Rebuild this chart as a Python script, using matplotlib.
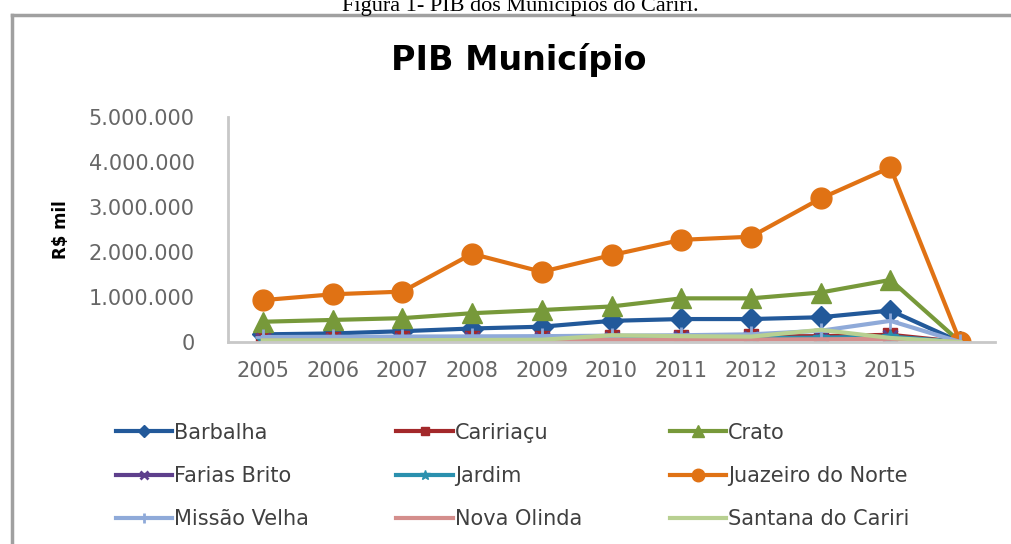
import matplotlib
matplotlib.use("Agg")
import matplotlib.pyplot as plt
from matplotlib.ticker import FuncFormatter
from matplotlib.lines import Line2D

# ---- data (R$ mil) ----
categories = ['2005', '2006', '2007', '2008', '2009', '2010', '2011', '2012', '2013', '2015', '']
barbalha = [170000, 190000, 240000, 300000, 340000, 470000, 510000, 510000, 550000, 700000, 0]
caririacu = [70000, 75000, 80000, 90000, 100000, 110000, 120000, 125000, 130000, 160000, 0]
crato = [450000, 490000, 530000, 640000, 710000, 790000, 970000, 970000, 1100000, 1380000, 0]
farias_brito = [50000, 52000, 55000, 60000, 65000, 75000, 80000, 85000, 90000, 110000, 0]
jardim = [55000, 58000, 60000, 65000, 70000, 80000, 85000, 90000, 95000, 120000, 0]
juazeiro = [930000, 1060000, 1120000, 1960000, 1560000, 1930000, 2270000, 2340000, 3190000, 3880000, 0]
missao_velha = [110000, 115000, 120000, 125000, 130000, 140000, 150000, 170000, 250000, 470000, 0]
nova_olinda = [30000, 32000, 34000, 38000, 40000, 45000, 50000, 55000, 60000, 70000, 0]
santana = [35000, 38000, 40000, 45000, 50000, 150000, 130000, 120000, 270000, 90000, 0]

series = [
    ('Barbalha', barbalha, '#22599A', 'D', 11),
    ('Caririaçu', caririacu, '#A3282A', 's', 10),
    ('Crato', crato, '#77993A', '^', 14),
    ('Farias Brito', farias_brito, '#5E3F8C', 'x', 10),
    ('Jardim', jardim, '#2A90AE', '*', 12),
    ('Juazeiro do Norte', juazeiro, '#E07214', 'o', 15),
    ('Missão Velha', missao_velha, '#8FAAD9', '+', 12),
    ('Nova Olinda', nova_olinda, '#D48E8C', None, 0),
    ('Santana do Cariri', santana, '#B8D091', None, 0),
]

W, H = 1011, 544
fig = plt.figure(figsize=(W / 100, H / 100), dpi=100)

# border and caption
fig.add_artist(Line2D([12 / W, 12 / W], [0, 1 - 15 / H], color='#A0A0A0', lw=2.5, transform=fig.transFigure))
fig.add_artist(Line2D([12 / W, 1], [1 - 15 / H, 1 - 15 / H], color='#A0A0A0', lw=2.5, transform=fig.transFigure))
fig.text(520 / W, 1 - 11 / H, 'Figura 1- PIB dos Municípios do Cariri.', ha='center', va='baseline',
         fontsize=16, family='Liberation Serif', color='black')

fig.text(519 / W, 1 - 60 / H, 'PIB Município', ha='center', va='center', fontsize=24,
         fontweight='bold', color='black')

ax = fig.add_axes([228 / W, 1 - 342 / H, (995 - 228) / W, (342 - 117) / H])
x = list(range(len(categories)))
handles = []
for name, vals, col, mk, ms in series:
    kw = dict(color=col, lw=3, label=name, solid_joinstyle='round')
    if mk:
        if mk in ('x', '+'):
            kw.update(marker=mk, markersize=ms, markeredgewidth=2, markeredgecolor=col)
        else:
            kw.update(marker=mk, markersize=ms, markerfacecolor=col, markeredgecolor=col)
    h, = ax.plot(x, vals, **kw)
    handles.append(h)

ax.set_xlim(-0.5, len(categories) - 0.5)
ax.set_ylim(0, 5000000)
ax.set_yticks([0, 1000000, 2000000, 3000000, 4000000, 5000000])
ax.yaxis.set_major_formatter(FuncFormatter(lambda v, p: f'{int(v):,}'.replace(',', '.')))
ax.set_xticks(x)
ax.set_xticklabels(categories)
ax.tick_params(axis='both', length=0, labelsize=15, colors='#666666')
ax.tick_params(axis='x', pad=14)
ax.tick_params(axis='y', pad=24)
for s in ('top', 'right'):
    ax.spines[s].set_visible(False)
for s in ('left', 'bottom'):
    ax.spines[s].set_color('#C8C8C8')
    ax.spines[s].set_linewidth(2)
ax.set_ylabel('R$ mil', fontsize=12, fontweight='bold', color='black', labelpad=0)
ax.yaxis.set_label_coords((70 - 228) / (995 - 228), (342 - 230) / (342 - 117))

# legend (3 columns, row-major order as in reference)
order = [0, 3, 6, 1, 4, 7, 2, 5, 8]
hh = [handles[i] for i in order]
fig.legend(handles=hh, loc='upper left', bbox_to_anchor=(97 / W, 1 - 404 / H),
           ncol=3, frameon=False, fontsize=15, handlelength=2.7, handletextpad=0.1,
           columnspacing=4.2, labelspacing=1.12, labelcolor='#404040', markerscale=0.6)

fig.savefig('out.png', dpi=100)
